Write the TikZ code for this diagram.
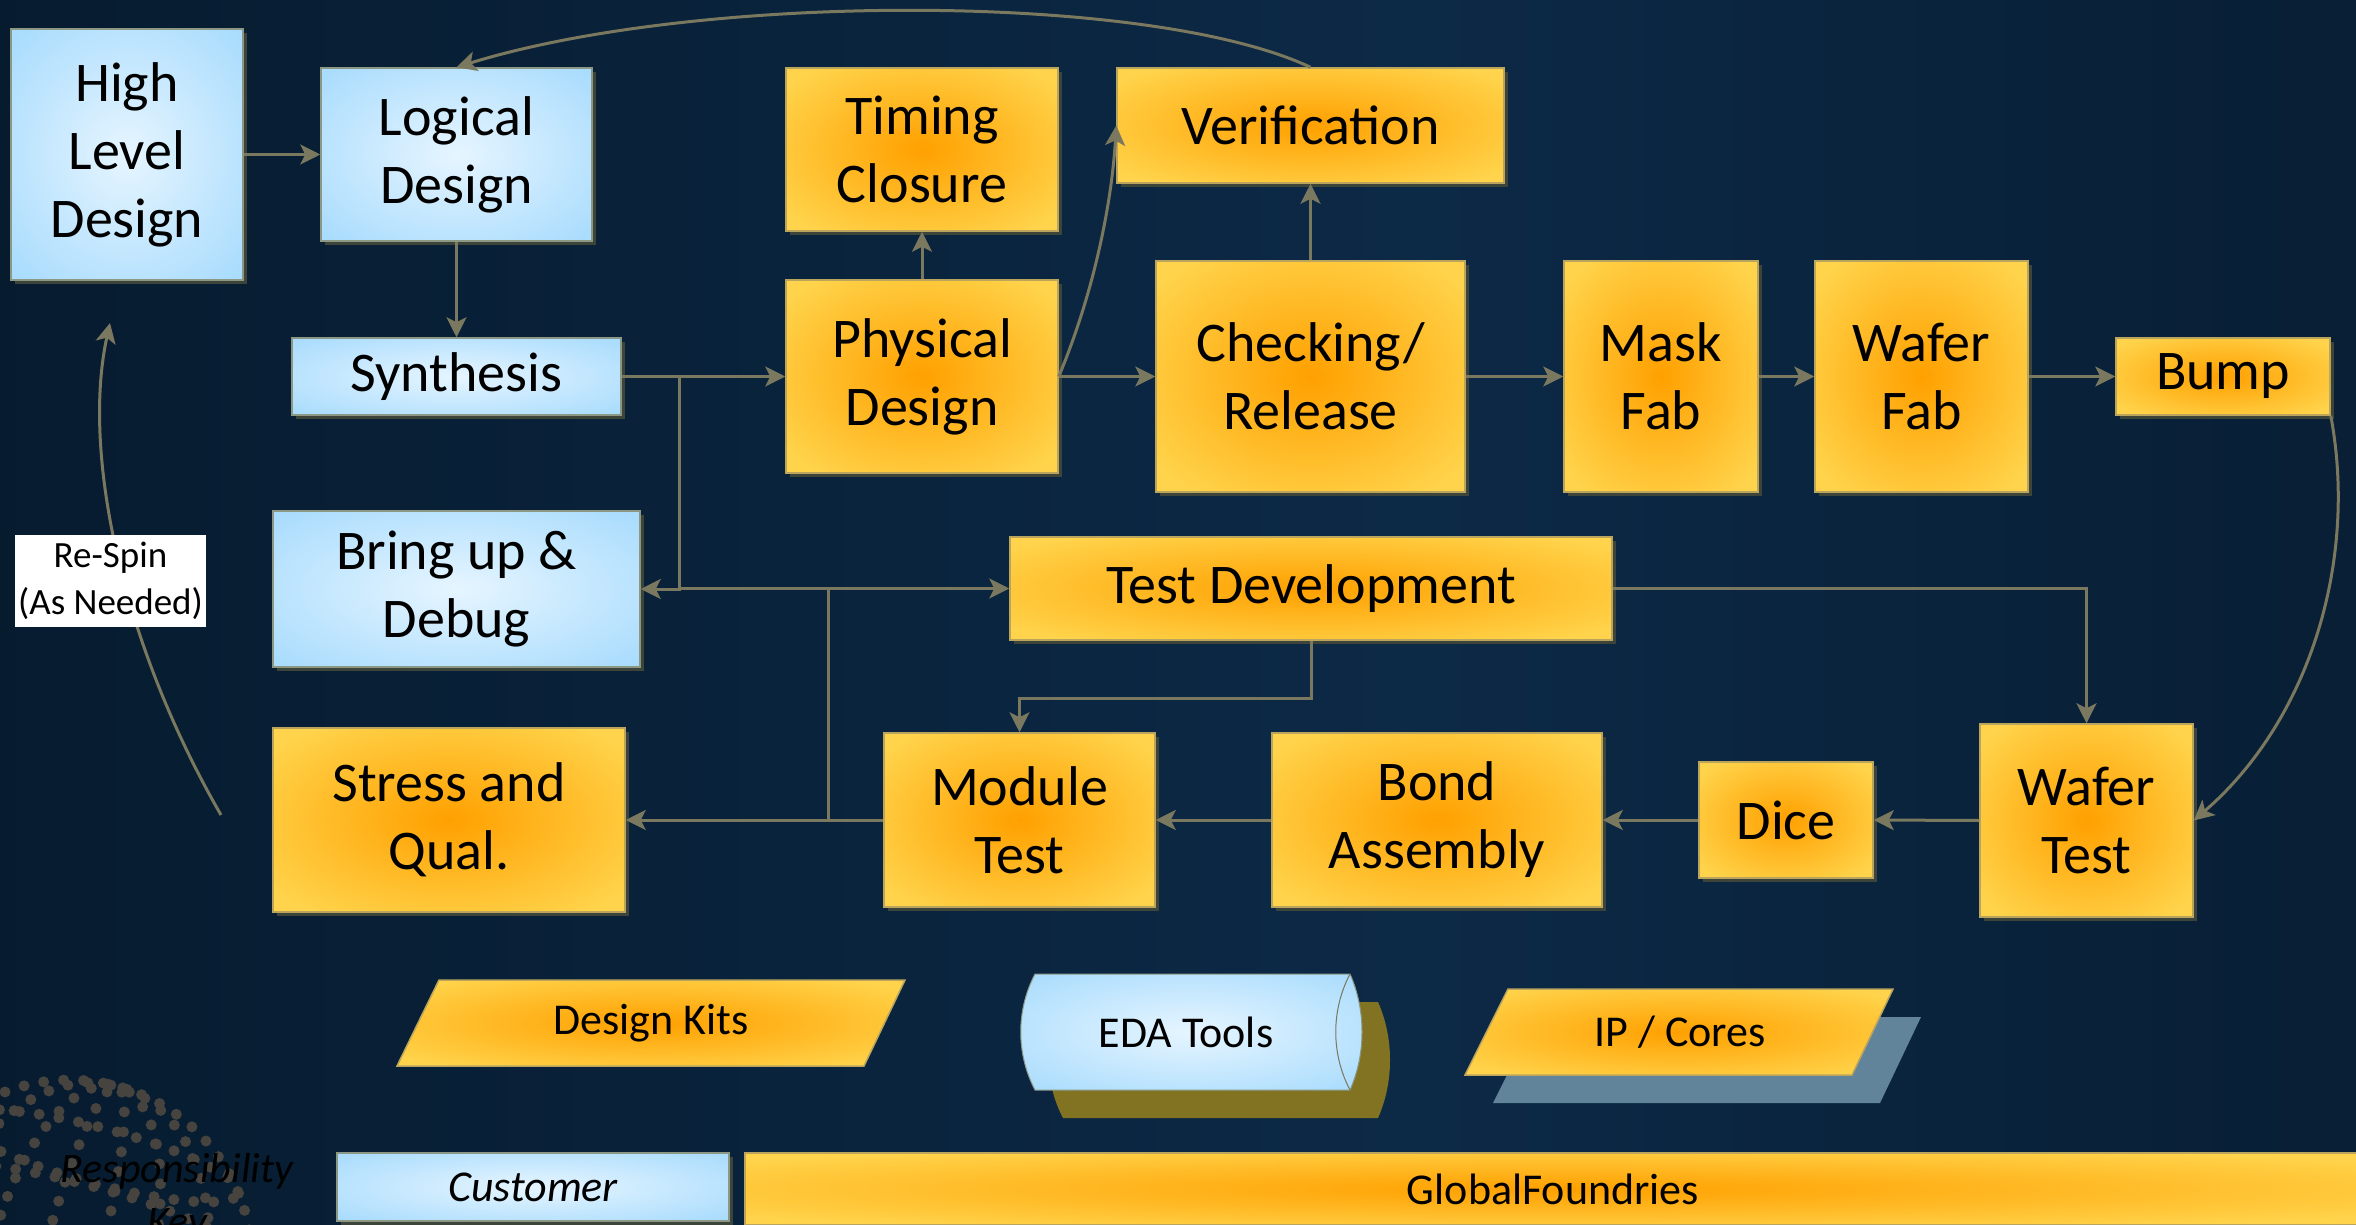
\documentclass[tikz,border=0pt]{standalone}
\usepackage{fontspec}
\setmainfont{Carlito}
\usetikzlibrary{arrows.meta,shadows,calc}

% palette
\definecolor{bgA}{HTML}{020910}
\definecolor{bgB}{HTML}{061A2D}
\definecolor{bgC}{HTML}{0C2946}
\definecolor{ycen}{HTML}{FFA000}
\definecolor{yout}{HTML}{FFD44C}
\definecolor{bcen}{HTML}{E6F5FF}
\definecolor{bout}{HTML}{A9DCFD}
\definecolor{ybord}{HTML}{BBA55C}
\definecolor{bbord}{HTML}{8C9884}
\definecolor{shadc}{HTML}{3D4439}
\definecolor{arrc}{HTML}{7A785E}
\definecolor{olivec}{HTML}{827323}
\definecolor{steelc}{HTML}{62849A}
\definecolor{dotc}{HTML}{474440}

% glow fills of the boxes and the page background
\pgfdeclareradialshading{yglow}{\pgfpoint{0bp}{0bp}}{color(0bp)=(ycen); color(32bp)=(yout); color(50bp)=(yout)}
\pgfdeclareradialshading{bglow}{\pgfpoint{0bp}{0bp}}{color(0bp)=(bcen); color(34bp)=(bout); color(50bp)=(bout)}
\pgfdeclarehorizontalshading{bgshade}{100bp}{color(0bp)=(bgA); color(22bp)=(bgB); color(55bp)=(bgC); color(84bp)=(bgB); color(100bp)=(bgA)}

\newcommand\boxfont{\fontsize{56}{68}\selectfont}
\newcommand\smallfont{\fontsize{44}{52}\selectfont}
\newcommand\notefont{\fontsize{37}{47}\selectfont}

\tikzset{
  sz/.style 2 args={minimum width=#1pt, minimum height=#2pt},
  ybox/.style={shade, shading=yglow, draw=ybord, line width=1.5pt,
    drop shadow={shadow xshift=4pt, shadow yshift=-4pt, fill=shadc, opacity=1},
    inner sep=0pt, align=center, font=\boxfont},
  bbox/.style={shade, shading=bglow, draw=bbord, line width=1.5pt,
    drop shadow={shadow xshift=4pt, shadow yshift=-4pt, fill=shadc, opacity=1},
    inner sep=0pt, align=center, font=\boxfont},
  conn/.style={draw=arrc, line width=3pt},
  arr/.style={conn, -{Stealth[length=20pt, width=20pt, inset=5pt]}},
  keytext/.style={font=\fontsize{42}{50}\selectfont\itshape, text=black, inner sep=0pt},
  globe/.style={draw=dotc, line width=11pt, line cap=round, dash pattern=on 0pt off 20pt},
}

\begin{document}
\begin{tikzpicture}[x=1pt, y=-1pt]
\useasboundingbox (0,0) rectangle (2356,1225);
\shade[shading=bgshade] (0,0) rectangle (2356,1225);

% dotted globe in the lower left corner
\begin{scope}
  \clip (0,0) rectangle (2356,1225);
  \begin{scope}[shift={(70,1262)}, rotate=-15]
    \draw[globe] (0,0) circle (182pt);
    \draw[globe] (0,0) ellipse (135pt and 182pt);
    \draw[globe] (0,0) ellipse (80pt and 182pt);
    \draw[globe] (0,0) ellipse (28pt and 182pt);
    \draw[globe] (0,-110) ellipse (145pt and 28pt);
    \draw[globe] (0,-45) ellipse (175pt and 34pt);
  \end{scope}
\end{scope}

\node[keytext, anchor=base] (resp) at (177,1182) {Responsibility};
\node[keytext, anchor=base] (key) at (177,1235) {Key};

% process boxes
\node[bbox, sz={232}{251}] (hld) at (127,154.5) {High\\Level\\Design};
\node[bbox, sz={271}{173}] (ld) at (456.5,154.5) {Logical\\Design};
\node[bbox, sz={329}{77}] (syn) at (456.5,376.5) {Synthesis};
\node[ybox, sz={272}{163}] (tc) at (922,149.5) {Timing\\Closure};
\node[ybox, sz={387}{115}] (ver) at (1310.5,125.5) {Verification};
\node[ybox, sz={272}{193}] (pd) at (922,376.5) {Physical\\Design};
\node[ybox, sz={309}{231}] (chk) at (1310.5,376.5) {Checking/\\Release};
\node[ybox, sz={194}{231}] (mask) at (1661,376.5) {Mask\\Fab};
\node[ybox, sz={213}{231}] (wfab) at (1921.5,376.5) {Wafer\\Fab};
\node[ybox, sz={214}{77}] (bump) at (2223,376.5) {Bump};
\node[bbox, sz={367}{156}] (bud) at (456.5,589) {Bring up \&\\Debug};
\node[ybox, sz={602}{103}] (tdev) at (1311,588.5) {Test Development};
\node[ybox, sz={352}{184}] (sq) at (449,820) {Stress and\\Qual.};
\node[ybox, sz={271}{174}] (mt) at (1019.5,820) {Module\\Test};
\node[ybox, sz={330}{174}] (ba) at (1437,820) {Bond\\Assembly};
\node[ybox, sz={174}{116}] (dice) at (1786,820) {Dice};
\node[ybox, sz={213}{193}] (wt) at (2086.5,820.5) {Wafer\\Test};

% straight connectors
\draw[arr] (hld.east) -- (ld.west);
\draw[arr] (ld.south) -- (syn.north);
\draw[arr] (syn.east) -- (pd.west);
\coordinate (jA) at (679,376.5);
\draw[arr] (jA) |- (bud.east);
\draw[arr] (jA |- tdev.west) -- (tdev.west);
\coordinate (jC) at (828,820);
\draw[conn] (jC) -- (jC |- tdev.west);
\draw[arr] (mt.west) -- (sq.east);
\draw[arr] (pd.north) -- (tc.south);
\draw[arr] (pd.east) -- (chk.west);
\draw[arr] (chk.north) -- (ver.south);
\draw[arr] (chk.east) -- (mask.west);
\draw[arr] (mask.east) -- (wfab.west);
\draw[arr] (wfab.east) -- (bump.west);
\draw[arr] (tdev.east) -| (wt.north);
\draw[arr] (tdev.south) -- ++(0,58) -| (mt.north);
\draw[arr] (wt.west) -- (dice.east);
\draw[arr] (dice.west) -- (ba.east);
\draw[arr] (ba.west) -- (mt.east);

% curved connectors
\draw[arr] (ver.north) .. controls (1150,-8) and (700,-8) .. (ld.north);
\draw[arr] (pd.east) .. controls (1095,290) and (1112,200) .. (ver.west);
\draw[arr] (bump.south east) .. controls (2358,560) and (2310,720) .. (wt.east);
\coordinate (rsA) at (221,815);
\coordinate (rsB) at (110,323);
\draw[arr] (rsA) .. controls (120,640) and (82,450) .. (rsB);
\node[fill=white, inner sep=0pt, sz={191}{92}, align=center, font=\notefont] (rs) at (110.5,581) {Re-Spin\\(As Needed)};

% design kits
\path[shade, shading=yglow, draw=ybord, line width=1.5pt]
  (439,980) -- (905,980) -- (864,1066) -- (397,1066) -- cycle;
\node[font=\smallfont] (dk) at (651,1023) {Design Kits};

% EDA tools drum
\path[fill=olivec] (1063,1002) .. controls (1044,1038) and (1044,1082) .. (1063,1118)
  -- (1378,1118) .. controls (1394,1082) and (1394,1038) .. (1378,1002) -- cycle;
\path[shade, shading=bglow, draw=bbord, line width=1pt]
  (1035,974) -- (1350,974) .. controls (1366,1010) and (1366,1054) .. (1350,1090)
  -- (1035,1090) .. controls (1016,1054) and (1016,1010) .. (1035,974) -- cycle;
\draw[arrc, line width=1pt] (1350,974) .. controls (1331,1010) and (1331,1054) .. (1350,1090);
\node[font=\smallfont] (eda) at (1186,1032) {EDA Tools};

% IP / cores
\fill[steelc] (1536,1017) -- (1921,1017) -- (1880,1103) -- (1493,1103) -- cycle;
\path[shade, shading=yglow, draw=ybord, line width=1.5pt]
  (1508,989) -- (1893,989) -- (1852,1075) -- (1465,1075) -- cycle;
\node[font=\smallfont] (ip) at (1680,1032) {IP / Cores};

% responsibility key
\node[bbox, sz={392}{68}, font=\smallfont\itshape] (cust) at (533,1187) {Customer};
\node[ybox, sz={1616}{72}, font=\smallfont] (gf) at (1553,1189) {GlobalFoundries};
\end{tikzpicture}
\end{document}
